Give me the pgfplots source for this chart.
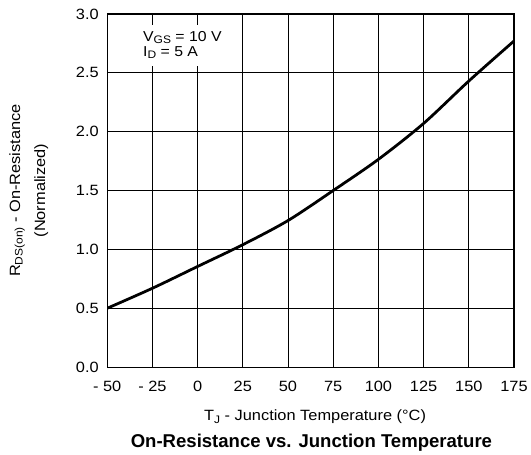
\documentclass[border=0pt]{standalone}
\usepackage{fontspec}
\setmainfont[FakeStretch=1.1]{Liberation Sans}
\newfontfamily\titlefont{Liberation Sans}
\usepackage{pgfplots}
\pgfplotsset{compat=1.18}
\newcommand\sub[1]{\raisebox{-0.3ex}{\fontsize{11}{11}\selectfont #1}}
\begin{document}
\begin{tikzpicture}
\begin{axis}[
  scale only axis, width=410pt, height=356pt,
  xmin=-50, xmax=175, ymin=0, ymax=3,
  clip mode=individual,
  xtick={-50,-25,0,25,50,75,100,125,150,175},
  xticklabels={- 50,- 25,0,25,50,75,100,125,150,175},
  ytick={0,0.5,1,1.5,2,2.5,3},
  yticklabels={0.0,0.5,1.0,1.5,2.0,2.5,3.0},
  grid=major, major grid style={black, line width=1pt},
  axis line style={line width=1.3pt},
  tick style={draw=none},
  tick label style={font=\fontsize{15}{17}\selectfont},
  xticklabel style={anchor=base, yshift=-25pt},
  yticklabel style={anchor=east, xshift=-5pt},
]
\addplot[smooth, line width=2.8pt, black] coordinates {
  (-50,0.50) (-25,0.67) (0,0.855) (25,1.04) (50,1.245) (75,1.50)
  (100,1.765) (125,2.07) (150,2.43) (175,2.77)};
\node[anchor=base west, fill=white, inner xsep=6pt, inner ysep=7pt, align=left,
      font=\fontsize{14.5}{15}\selectfont] at (axis cs:-33.5,2.638)
  {V\sub{GS} = 10 V\\I\sub{D} = 5 A};
\coordinate (sw) at (rel axis cs:0,0);
\node[rotate=90, align=center, font=\fontsize{15}{25}\selectfont]
  at ([xshift=-79pt]rel axis cs:0,0.5) {R\sub{DS(on)} - On-Resistance\\(Normalized)};
\node[anchor=base, yshift=-54pt, font=\fontsize{15}{17}\selectfont]
  at (rel axis cs:0.511,0) {T\sub{J} - Junction Temperature (°C)};
\node[anchor=base, yshift=-81pt, font=\titlefont\bfseries\fontsize{18.7}{20}\selectfont]
  at (rel axis cs:0.502,0) {On-Resistance vs. Junction Temperature};
\end{axis}
\path (sw) ++(-108pt,-84pt) rectangle ++(531pt,454pt);
\end{tikzpicture}
\end{document}
